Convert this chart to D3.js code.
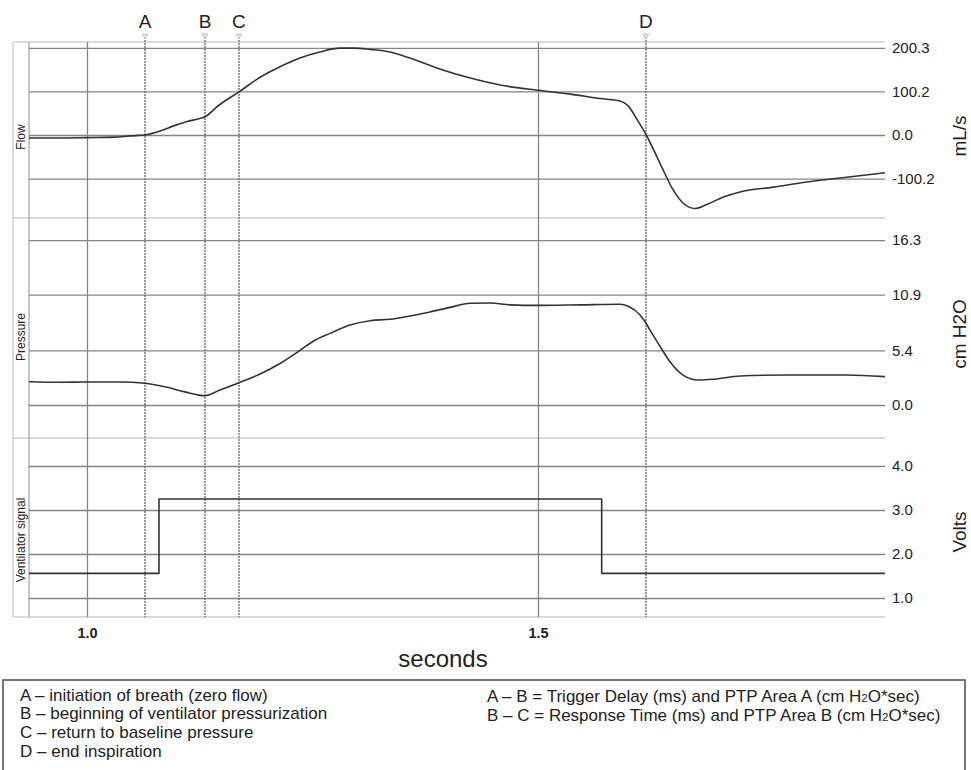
<!DOCTYPE html>
<html>
<head>
<meta charset="utf-8">
<script src="https://cdn.jsdelivr.net/npm/d3@7"></script>
<style>
  html, body { margin: 0; padding: 0; background: #fff; }
  svg { display: block; font-family: "Liberation Sans", Arial, sans-serif; }
</style>
</head>
<body>
<svg id="chart" width="971" height="770"></svg>
<script>
// ---------------- DATA ----------------
const xTickValues = [1.0, 1.5];
const xTickLabels = ["1.0", "1.5"];

const markerNames = ["A", "B", "C", "D"];
const markerTimes = [1.0643, 1.1308, 1.1685, 1.6197];

const flowTicks = [-100.2, 0.0, 100.2, 200.3];
const flowTickLabels = ["-100.2", "0.0", "100.2", "200.3"];
const pressureTicks = [0.0, 5.4, 10.9, 16.3];
const pressureTickLabels = ["0.0", "5.4", "10.9", "16.3"];
const voltTicks = [1.0, 2.0, 3.0, 4.0];
const voltTickLabels = ["1.0", "2.0", "3.0", "4.0"];

// Flow (mL/s)
const flowTime = [0.9357, 0.970, 1.000, 1.030, 1.048, 1.064, 1.081, 1.096, 1.111, 1.125,
                  1.131, 1.144, 1.169, 1.192, 1.214, 1.236, 1.258, 1.280, 1.297, 1.314,
                  1.336, 1.358, 1.391, 1.425, 1.458, 1.500, 1.536, 1.569, 1.591, 1.600,
                  1.610, 1.620, 1.635, 1.650, 1.661, 1.674, 1.687, 1.705, 1.724, 1.761,
                  1.798, 1.835, 1.8847];
const flowValues = [-7, -7, -6, -5, -2, 0, 9, 21, 31, 38,
                    42, 65, 100, 133, 157, 177, 191, 200, 200, 197,
                    191, 177, 152, 131, 115, 103, 94, 84, 78, 67,
                    35, 0, -64, -127, -157, -169, -160, -143, -131, -120,
                    -108, -99, -87];

// Pressure (cm H2O)
const pressureTime = [0.9357, 0.970, 1.000, 1.0366, 1.0643, 1.0865, 1.1086, 1.1308, 1.1475, 1.1685,
                      1.1918, 1.214, 1.2361, 1.2528, 1.2694, 1.2916, 1.3137, 1.3359, 1.3581, 1.3803,
                      1.4024, 1.4246, 1.4468, 1.469, 1.500, 1.5466, 1.5909, 1.600, 1.6131, 1.6197,
                      1.6242, 1.6353, 1.6463, 1.6608, 1.6774, 1.694, 1.724, 1.776, 1.8426, 1.8847];
const pressureValues = [2.3, 2.25, 2.27, 2.27, 2.15, 1.8, 1.3, 0.92, 1.48, 2.2,
                        3.06, 4.1, 5.4, 6.4, 7.08, 7.9, 8.33, 8.47, 8.8, 9.2,
                        9.65, 10.05, 10.08, 9.9, 9.85, 9.9, 9.95, 9.75, 8.9, 8.1,
                        7.4, 5.8, 4.28, 2.96, 2.47, 2.54, 2.87, 2.96, 2.96, 2.8];

// Ventilator signal (Volts)
const voltTime = [0.9357, 1.0798, 1.0798, 1.5706, 1.5706, 1.8847];
const voltValues = [1.56, 1.56, 3.25, 3.25, 1.56, 1.56];

const legendLeft = ["A \u2013 initiation of breath (zero flow)",
                    "B \u2013 beginning of ventilator pressurization",
                    "C \u2013 return to baseline pressure",
                    "D \u2013 end inspiration"];

// ---------------- LAYOUT ----------------
const svg = d3.select("#chart");
const frameL = 13, plotL = 29, plotR = 885, plotT = 42, plotB = 617;
const panels = [
  { name: "Flow", unit: "mL/s", y0: 42, y1: 218, domain: [-191, 214], nameY: 137, unitY: 136,
    ticks: flowTicks, labels: flowTickLabels, t: flowTime, v: flowValues, curve: d3.curveMonotoneX },
  { name: "Pressure", unit: "cm H2O", y0: 218, y1: 438, domain: [-3.26, 18.48], nameY: 337, unitY: 334,
    ticks: pressureTicks, labels: pressureTickLabels, t: pressureTime, v: pressureValues, curve: d3.curveMonotoneX },
  { name: "Ventilator signal", unit: "Volts", y0: 438, y1: 617, domain: [0.568, 4.636], nameY: 540, unitY: 532,
    ticks: voltTicks, labels: voltTickLabels, t: voltTime, v: voltValues, curve: d3.curveLinear }
];

const x = d3.scaleLinear().domain([0.9357, 1.8847]).range([plotL, plotR]);

const gridColor = "#858585";
const frameColor = "#cfcfcf";

// frame
svg.append("line").attr("x1", frameL).attr("x2", frameL).attr("y1", plotT).attr("y2", plotB)
  .attr("stroke", frameColor).attr("stroke-width", 1.5);
[plotT, 218, 438, plotB].forEach(yy => {
  svg.append("line").attr("x1", frameL).attr("x2", plotR).attr("y1", yy).attr("y2", yy)
    .attr("stroke", frameColor).attr("stroke-width", 1.5);
});
// left plot edge
svg.append("line").attr("x1", plotL).attr("x2", plotL).attr("y1", plotT).attr("y2", plotB)
  .attr("stroke", "#a8a8a8").attr("stroke-width", 1.3);

// x axis with vertical gridlines
const xAxis = d3.axisBottom(x).tickValues(xTickValues)
  .tickFormat((d, i) => xTickLabels[i]).tickSize(-(plotB - plotT)).tickPadding(11);
const gx = svg.append("g").attr("transform", `translate(0,${plotB})`).call(xAxis);
gx.select(".domain").remove();
gx.selectAll(".tick line").attr("stroke", gridColor).attr("stroke-width", 1.3);
gx.selectAll(".tick text").attr("fill", "#222").style("font-size", "14.5px").style("font-weight", "bold")
  .style("font-family", "'Liberation Sans', Arial, sans-serif");

svg.append("text").attr("x", 443).attr("y", 667).attr("text-anchor", "middle")
  .style("font-size", "24px").attr("fill", "#222").text("seconds");

// panels
panels.forEach(p => {
  const y = d3.scaleLinear().domain(p.domain).range([p.y1, p.y0]);
  p.y = y;
  const ax = d3.axisRight(y).tickValues(p.ticks).tickFormat((d, i) => p.labels[i])
    .tickSize(-(plotR - plotL)).tickPadding(7);
  const g = svg.append("g").attr("transform", `translate(${plotR},0)`).call(ax);
  g.select(".domain").remove();
  g.selectAll(".tick line").attr("stroke", gridColor).attr("stroke-width", 1.3);
  g.selectAll(".tick text").attr("fill", "#222").style("font-size", "15px")
    .style("font-family", "'Liberation Sans', Arial, sans-serif");

  svg.append("text")
    .attr("transform", `translate(25,${p.nameY}) rotate(-90)`)
    .attr("text-anchor", "middle").style("font-size", "12px").attr("fill", "#222").text(p.name);
  svg.append("text")
    .attr("transform", `translate(966,${p.unitY}) rotate(-90)`)
    .attr("text-anchor", "middle").style("font-size", "19px").attr("fill", "#222").text(p.unit);
});

// markers
markerTimes.forEach((t, i) => {
  const mx = x(t);
  svg.append("line").attr("x1", mx).attr("x2", mx).attr("y1", 37).attr("y2", plotB)
    .attr("stroke", "#6e6e6e").attr("stroke-width", 1.4).attr("stroke-dasharray", "2,1");
  svg.append("path").attr("d", `M${mx - 3},34 L${mx + 3},34 L${mx},39 Z`)
    .attr("fill", "#e4e4e4").attr("stroke", "#bdbdbd").attr("stroke-width", 0.8);
  svg.append("text").attr("x", mx).attr("y", 28).attr("text-anchor", "middle")
    .style("font-size", "19px").attr("fill", "#222").text(markerNames[i]);
});

// curves
panels.forEach(p => {
  const pts = p.t.map((t, i) => [t, p.v[i]]);
  const line = d3.line().x(d => x(d[0])).y(d => p.y(d[1])).curve(p.curve);
  svg.append("path").datum(pts).attr("d", line).attr("fill", "none")
    .attr("stroke", "#333").attr("stroke-width", 1.6).attr("stroke-linejoin", "round");
});

// legend box
svg.append("rect").attr("x", 3).attr("y", 680).attr("width", 962).attr("height", 100)
  .attr("fill", "none").attr("stroke", "#555").attr("stroke-width", 1.6);
legendLeft.forEach((s, i) => {
  svg.append("text").attr("x", 20).attr("y", 700.5 + i * 18.8)
    .style("font-size", "17px").attr("fill", "#222").text(s);
});
const rightLines = [
  ["A \u2013 B = Trigger Delay (ms) and PTP Area A (cm H", "O*sec)"],
  ["B \u2013 C = Response Time (ms) and PTP Area B (cm H", "O*sec)"]
];
rightLines.forEach((parts, i) => {
  const t = svg.append("text").attr("x", 487).attr("y", 701.5 + i * 19)
    .style("font-size", "17px").attr("fill", "#222");
  t.append("tspan").text(parts[0]);
  t.append("tspan").style("font-size", "11.5px").text("2");
  t.append("tspan").text(parts[1]);
});
</script>
</body>
</html>
